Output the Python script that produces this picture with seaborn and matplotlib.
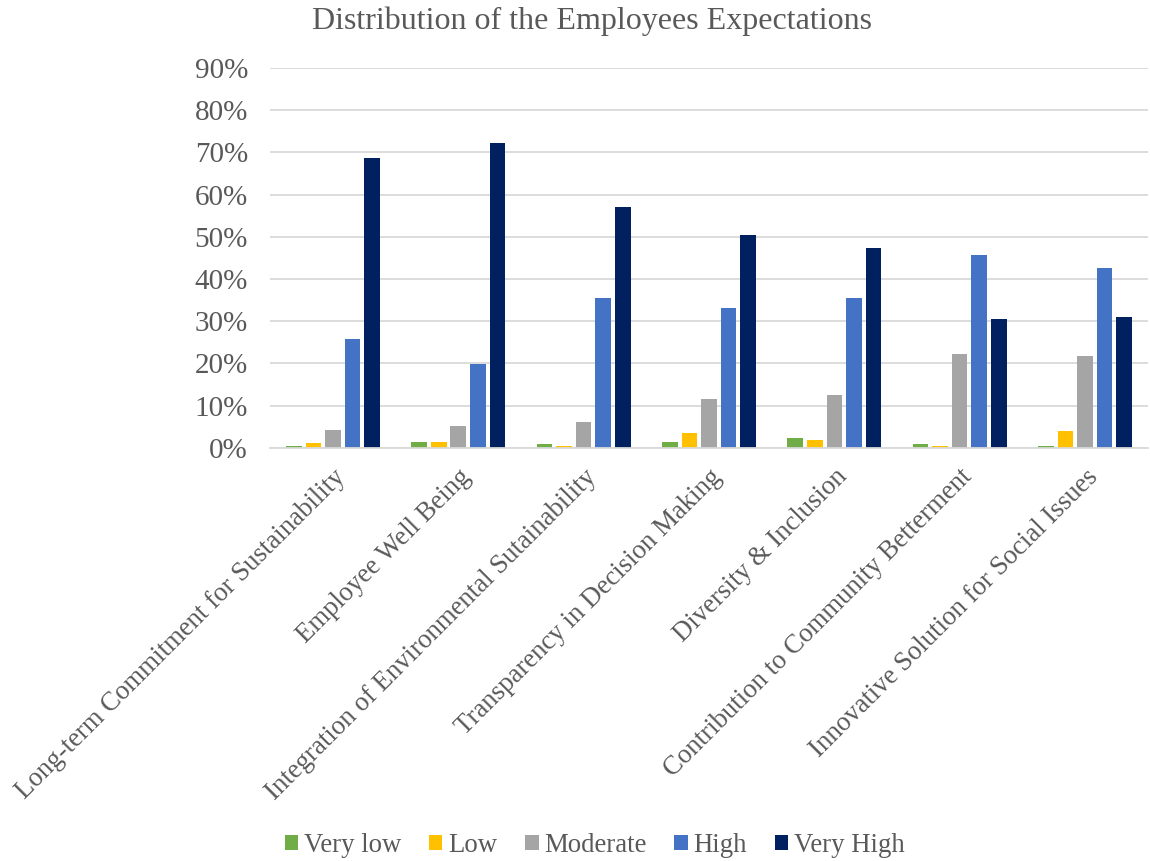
import matplotlib
matplotlib.use("Agg")
import matplotlib.pyplot as plt
import seaborn as sns
import pandas as pd
from matplotlib.patches import Patch

categories = [
    "Long-term Commitment for Sustainability",
    "Employee Well Being",
    "Integration of Environmental Sutainability",
    "Transparency in Decision Making",
    "Diversity & Inclusion",
    "Contribution to Community Betterment",
    "Innovative Solution for Social Issues",
]
levels = ["Very low", "Low", "Moderate", "High", "Very High"]
very_low = [0.5, 1.4, 0.9, 1.4, 2.3, 0.9, 0.4]
low = [1.1, 1.4, 0.4, 3.5, 1.8, 0.4, 4.0]
moderate = [4.2, 5.1, 6.0, 11.6, 12.6, 22.3, 21.8]
high = [25.8, 19.9, 35.5, 33.1, 35.5, 45.7, 42.7]
very_high = [68.6, 72.2, 57.0, 50.4, 47.3, 30.6, 31.0]
y_ticks = [0, 10, 20, 30, 40, 50, 60, 70, 80, 90]

palette = ["#70AD47", "#FFC000", "#A5A5A5", "#4472C4", "#002060"]
text_color = "#595959"
grid_color = "#D9D9D9"

rows = []
for lvl, vals in zip(levels, [very_low, low, moderate, high, very_high]):
    for cat, v in zip(categories, vals):
        rows.append({"Category": cat, "Level": lvl, "Value": v})
df = pd.DataFrame(rows)

sns.set_style("white")
plt.rcParams["font.family"] = ["Liberation Serif", "DejaVu Serif"]

fig = plt.figure(figsize=(11.5, 8.61), dpi=100)
ax = fig.add_axes([0.235, 0.480, 0.763, 0.441])

sns.barplot(data=df, x="Category", y="Value", hue="Level", order=categories,
            hue_order=levels, palette=palette, width=0.78, gap=0.2,
            saturation=1, legend=False, ax=ax, linewidth=0)

ax.set_ylim(0, 90)
ax.set_yticks(y_ticks)
ax.set_yticklabels([f"{t}%" for t in y_ticks], fontsize=21, color=text_color)
ax.set_xlim(-0.5, len(categories) - 0.5)
ax.set_xticks(range(len(categories)))
ax.set_xticklabels(categories, rotation=45, ha="right", rotation_mode="anchor",
                   fontsize=19.3, color=text_color)
ax.tick_params(axis="y", length=0, pad=16)
ax.tick_params(axis="x", length=0, pad=12)
ax.set_xlabel("")
ax.set_ylabel("")
ax.yaxis.grid(True, color=grid_color, linewidth=1.3)
ax.set_axisbelow(True)
for side in ["top", "right", "left"]:
    ax.spines[side].set_visible(False)
ax.spines["bottom"].set_color(grid_color)
ax.spines["bottom"].set_linewidth(1.3)

fig.text(0.515, 0.975, "Distribution of the Employees Expectations", ha="center",
         va="center", fontsize=23, color=text_color)

handles = [Patch(facecolor=c, edgecolor="none") for c in palette]
fig.legend(handles, levels, loc="center", bbox_to_anchor=(0.517, 0.018), ncol=5,
           frameon=False, fontsize=19.3, labelcolor=text_color, handlelength=0.5,
           handleheight=0.5, handletextpad=0.2, columnspacing=1.05)

fig.savefig("out.png", dpi=100)
